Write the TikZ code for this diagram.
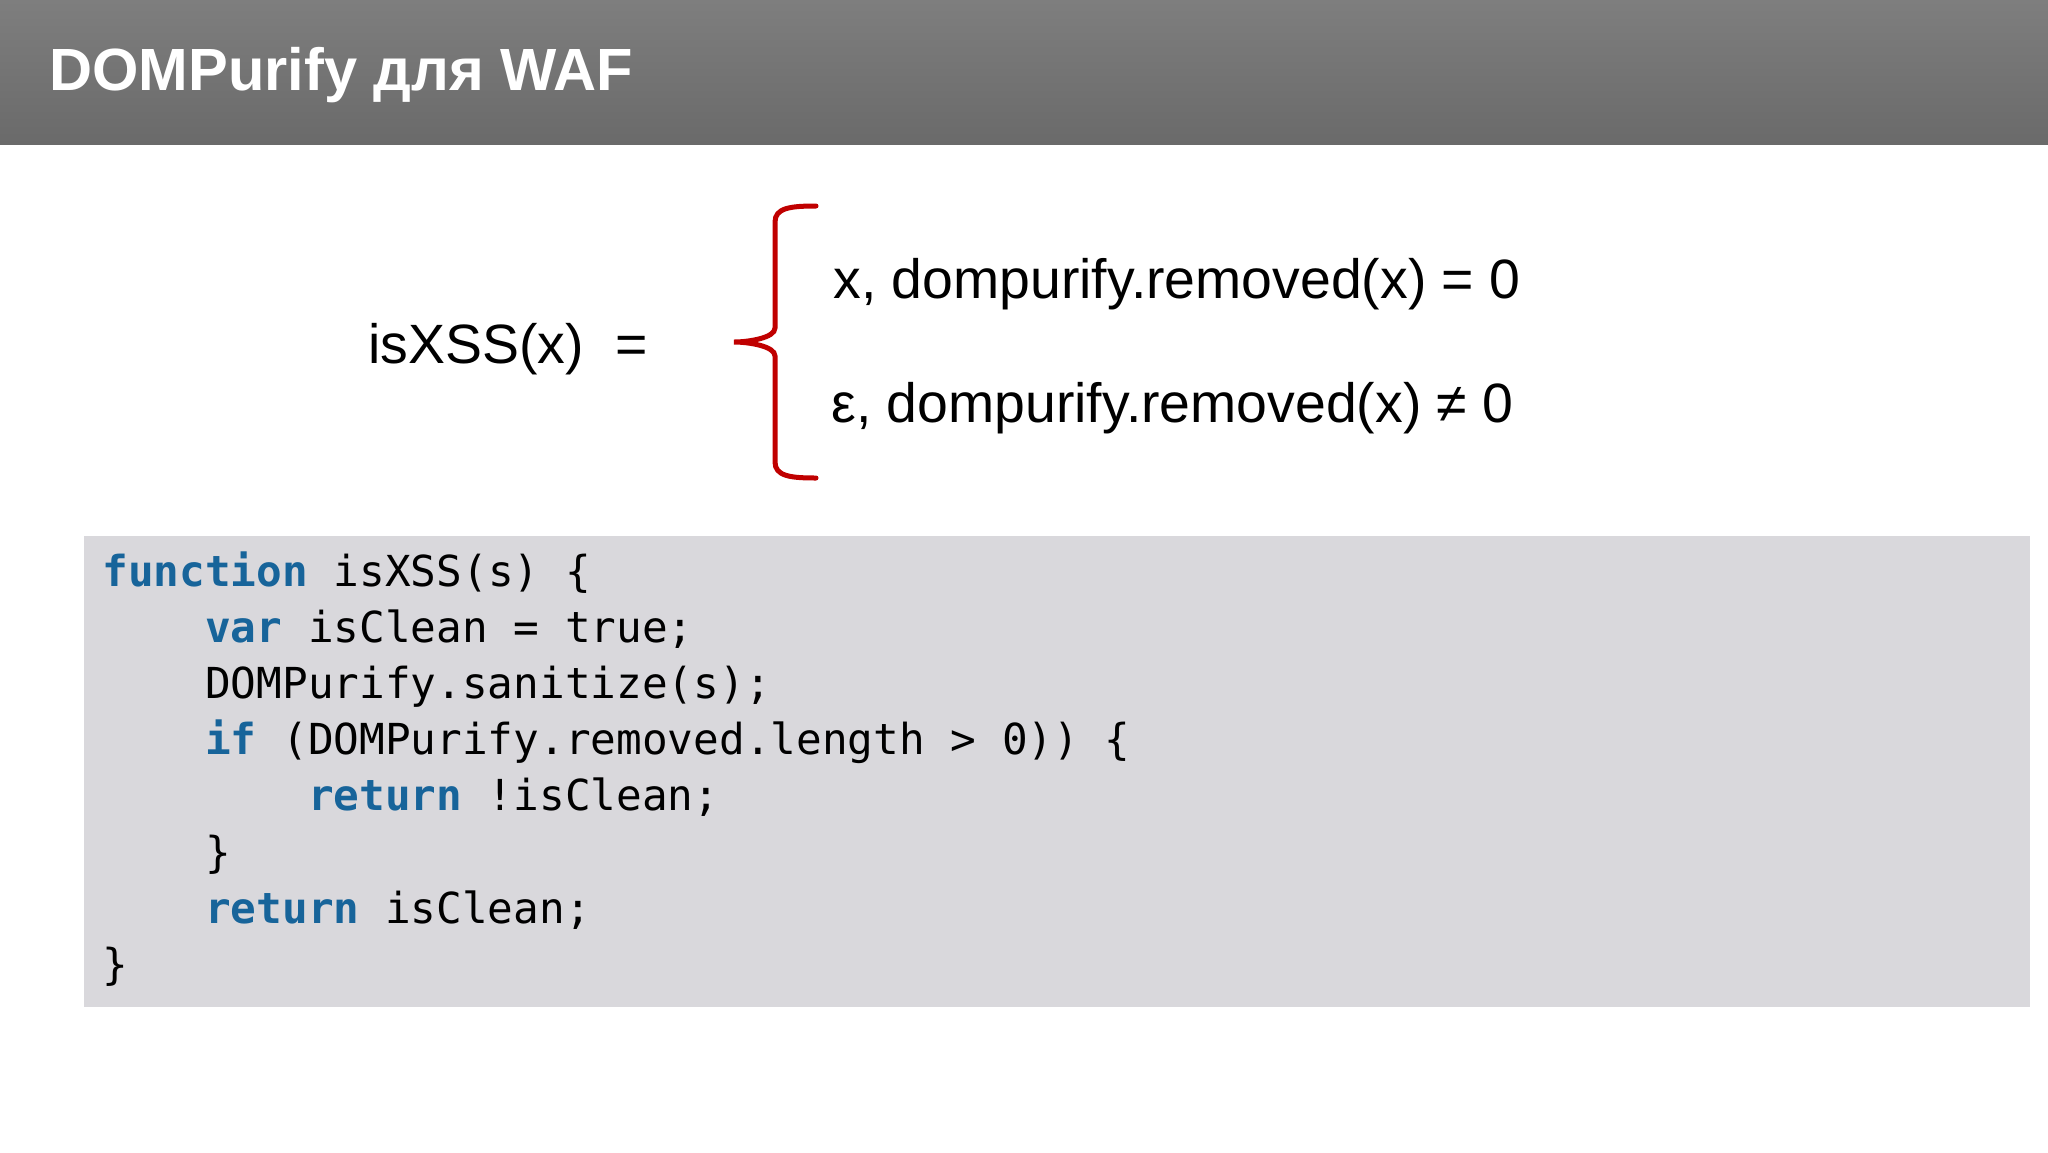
\documentclass[tikz,border=0pt]{standalone}
\usepackage{fontspec}
\setmainfont{Liberation Sans}
\newfontfamily\codefont{DejaVu Sans Mono}
\definecolor{headtop}{HTML}{7E7E7E}
\definecolor{headbot}{HTML}{6A6A6A}
\definecolor{codebg}{HTML}{D9D8DC}
\definecolor{keyblue}{HTML}{17649A}
\definecolor{bracered}{HTML}{C00000}
\newcommand{\kw}[1]{{\bfseries\color{keyblue}#1}}
\tikzset{
  txt/.style={inner sep=0pt, anchor=base west},
  formula/.style={txt, font=\fontsize{27.7}{32}\selectfont},
  codeline/.style={txt, font=\codefont\fontsize{21.35}{28}\selectfont},
}

\begin{document}
\begin{tikzpicture}[x=0.5pt,y=-0.5pt]
	\useasboundingbox (0,0) rectangle (2048,1152);
	\fill[white] (0,0) rectangle (2048,1152);
	% header
	\shade[top color=headtop, bottom color=headbot] (0,0) rectangle (2048,144);
	\node[txt, text=white, font=\fontsize{29.8}{34}\selectfont\bfseries] (title) at (49,90) {DOMPurify для WAF};
	% definition
	\node[formula] (lhs) at (368,363) {isXSS(x)};
	\node[formula] (eq) at (615,363) {=};
	\draw[bracered, line width=2.5pt, line cap=round]
		(816,206) .. controls (790,206) and (775,208) .. (775,222) -- (775,328)
		.. controls (775,338) and (748,342) .. (734,342)
		.. controls (748,342) and (775,346) .. (775,356) -- (775,462)
		.. controls (775,476) and (790,478) .. (816,478);
	\node[formula] (case1) at (833,298) {x, dompurify.removed(x) = 0};
	\node[formula] (case2) at (831,422) {ε, dompurify.removed(x) ≠ 0};
	% code
	\fill[codebg] (84,536) rectangle (2030,1007);
	\foreach \i/\ind/\line in {
		0/0/{\kw{function} isXSS(s) \{},
		1/4/{\kw{var} isClean = true;},
		2/4/{DOMPurify.sanitize(s);},
		3/4/{\kw{if} (DOMPurify.removed.length > 0)) \{},
		4/8/{\kw{return} !isClean;},
		5/4/{\}},
		6/4/{\kw{return} isClean;},
		7/0/{\}}}
		\node[codeline] (code\i) at ({102+\ind*25.7},{586+\i*56.2}) {\line};
\end{tikzpicture}
\end{document}
